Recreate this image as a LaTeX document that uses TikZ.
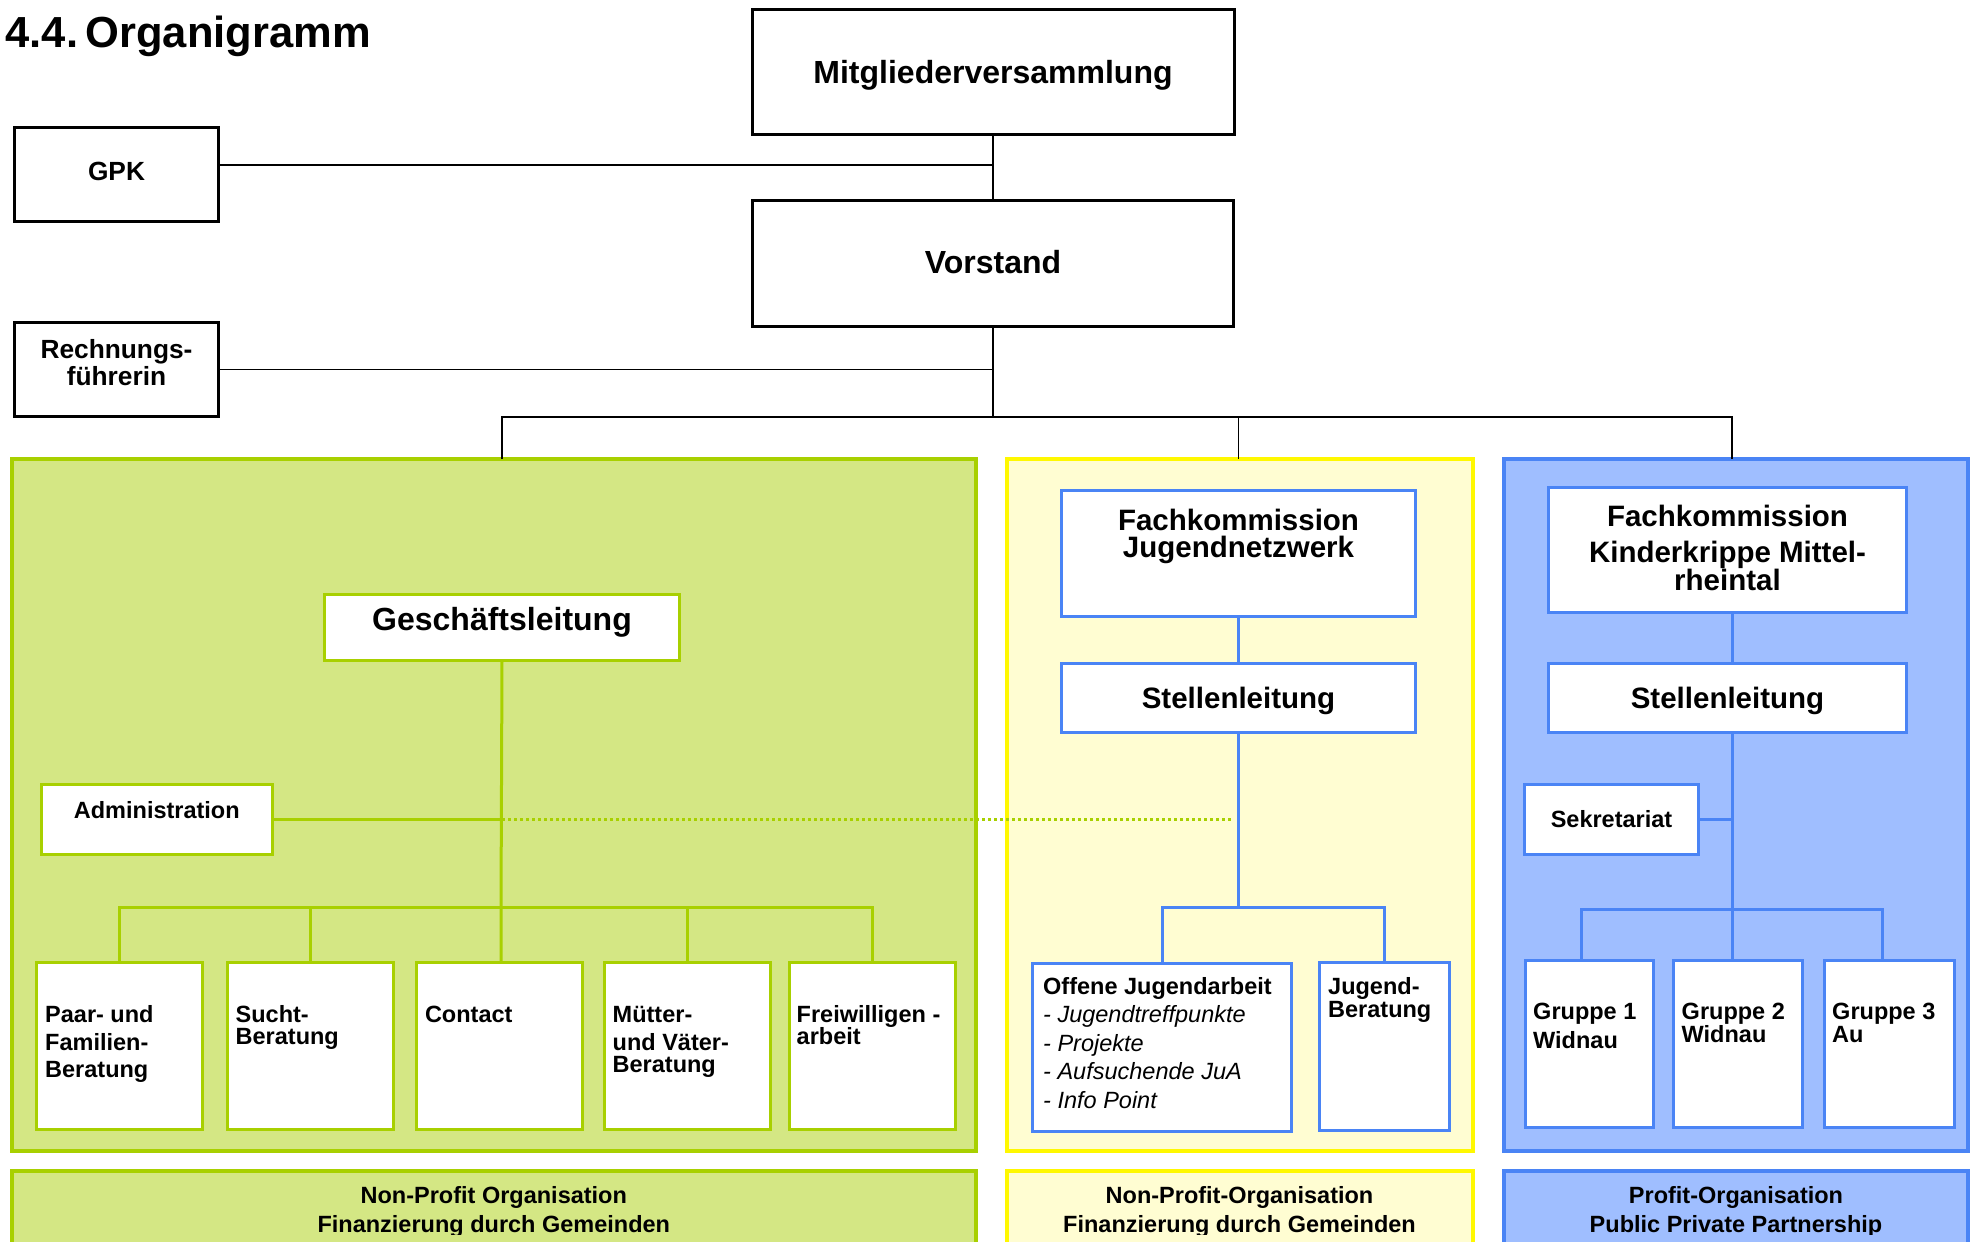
\documentclass[tikz,border=0pt]{standalone}
\usepackage{fontspec}
\setmainfont{Liberation Sans}
\usetikzlibrary{positioning}

\definecolor{grfill}{RGB}{212,231,132}
\definecolor{grline}{RGB}{168,208,0}
\definecolor{yefill}{RGB}{255,253,210}
\definecolor{yeline}{RGB}{255,248,0}
\definecolor{blfill}{RGB}{159,190,255}
\definecolor{blline}{RGB}{74,132,245}

\tikzset{
  blkbox/.style={draw=black, line width=3pt, fill=white, inner sep=0pt, outer sep=0pt},
  grbox/.style={draw=grline, line width=3pt, fill=white, inner sep=0pt, outer sep=0pt},
  blbox/.style={draw=blline, line width=3pt, fill=white, inner sep=0pt, outer sep=0pt},
  grpanel/.style={draw=grline, line width=4pt, fill=grfill, inner sep=0pt, outer sep=0pt, minimum width=964pt},
  yepanel/.style={draw=yeline, line width=4pt, fill=yefill, inner sep=0pt, outer sep=0pt, minimum width=466pt},
  blpanel/.style={draw=blline, line width=4pt, fill=blfill, inner sep=0pt, outer sep=0pt, minimum width=464pt},
  blkconn/.style={draw=black, line width=1.8pt},
  grconn/.style={draw=grline, line width=3pt},
  blconn/.style={draw=blline, line width=3pt},
  dotconn/.style={draw=grline, line width=3pt, dash pattern=on 3pt off 3pt},
  titletxt/.style={inner sep=0pt, font=\fontsize{43.5}{50}\selectfont\bfseries},
  bigtxt/.style={inner sep=0pt, font=\fontsize{32}{38}\selectfont\bfseries},
  midtxt/.style={inner sep=0pt, font=\fontsize{29.5}{35}\selectfont\bfseries},
  sidetxt/.style={inner sep=0pt, font=\fontsize{26.3}{31}\selectfont\bfseries},
  smalltxt/.style={inner sep=0pt, font=\fontsize{23.5}{28}\selectfont\bfseries},
  itemtxt/.style={inner sep=0pt, font=\fontsize{23.5}{28}\selectfont\itshape},
}

\begin{document}
\begin{tikzpicture}[x=1pt, y=-1pt]
    \useasboundingbox (0,0) rectangle (1973,1242);

    \node[titletxt, anchor=base west] (title) at (5.5,47) {4.4.\hspace{0.17em}Organigramm};

    % panels
    \node (green) at (493.8,805) [grpanel, minimum height=692pt] {};
    \node (yellow) at (1239.5,805) [yepanel, minimum height=692pt] {};
    \node (blue) at (1736,805) [blpanel, minimum height=692pt] {};

    \node (green label) at (493.8,1225.5) [grpanel, minimum height=109pt] {};
    \node (yellow label) at (1239.5,1225.5) [yepanel, minimum height=109pt] {};
    \node (blue label) at (1736,1225.5) [blpanel, minimum height=109pt] {};

    % top boxes
    \node (mv) at (993,72) [blkbox, minimum width=482pt, minimum height=125pt] {};
    \node (vs) at (993,263.5) [blkbox, minimum width=481pt, minimum height=126pt] {};
    \node (gpk) at (116.5,174.5) [blkbox, minimum width=204pt, minimum height=94pt] {};
    \node (rf) at (116.5,369.5) [blkbox, minimum width=204pt, minimum height=94pt] {};

    % green boxes
    \node (gl) at (502,627.5) [grbox, minimum width=355pt, minimum height=66pt] {};
    \node (adm) at (156.8,819.5) [grbox, minimum width=231pt, minimum height=70pt] {};
    \node (pf) at (119.5,1046) [grbox, minimum width=166pt, minimum height=167pt] {};
    \node (sb) at (310.5,1046) [grbox, minimum width=166pt, minimum height=167pt] {};
    \node (ct) at (499.3,1046) [grbox, minimum width=166pt, minimum height=167pt] {};
    \node (mt) at (687,1046) [grbox, minimum width=166pt, minimum height=167pt] {};
    \node (fw) at (872.5,1046) [grbox, minimum width=166pt, minimum height=167pt] {};

    % yellow boxes
    \node (fk1) at (1238.5,553.5) [blbox, minimum width=354pt, minimum height=126pt] {};
    \node (sl1) at (1238.5,698) [blbox, minimum width=354pt, minimum height=69pt] {};
    \node (oja) at (1162,1047.5) [blbox, minimum width=259pt, minimum height=168pt] {};
    \node (jb) at (1384.5,1046.5) [blbox, minimum width=130pt, minimum height=168pt] {};

    % blue boxes
    \node (fk2) at (1727.5,550) [blbox, minimum width=358pt, minimum height=125pt] {};
    \node (sl2) at (1727.5,698) [blbox, minimum width=358pt, minimum height=69pt] {};
    \node (sek) at (1611.5,819.5) [blbox, minimum width=174pt, minimum height=70pt] {};
    \node (g1) at (1589,1044) [blbox, minimum width=128pt, minimum height=167pt] {};
    \node (g2) at (1738,1044) [blbox, minimum width=129pt, minimum height=167pt] {};
    \node (g3) at (1889,1044) [blbox, minimum width=130pt, minimum height=167pt] {};

    % black connectors
    \coordinate (gpk join) at (993,165);
    \coordinate (bus) at (993,417);
    \coordinate (blue col) at (1732,698);
    \draw[blkconn] (mv.south) -- (vs.north);
    \draw[blkconn] (gpk join -| gpk.east) -- (gpk join);
    \draw[blkconn] (vs.south) -- (bus);
    \draw[blkconn] (rf.east) -- (rf.east -| vs.south);
    \draw[blkconn] (green.north -| gl.north) |- (bus) -| (blue.north -| blue col);
    \draw[blkconn] (bus -| sl1.north) -- (yellow.north -| sl1.north);

    % green connectors
    \coordinate (green bus) at (501,907);
    \draw[grconn] (gl.south) -- (green bus) -- (ct.north -| green bus);
    \draw[grconn] (pf.north) |- (green bus) -| (fw.north);
    \draw[grconn] (sb.north) -- (sb.north |- green bus);
    \draw[grconn] (mt.north) -- (mt.north |- green bus);
    \draw[grconn] (adm.east) -- (adm.east -| gl.south);
    \draw[dotconn] (adm.east -| gl.south) -- ([xshift=-6pt]adm.east -| sl1.south);

    % yellow connectors
    \coordinate (yellow bus) at (1238.5,907);
    \draw[blconn] (fk1.south) -- (sl1.north);
    \draw[blconn] (sl1.south) -- (yellow bus);
    \draw[blconn] (oja.north) |- (yellow bus) -| (jb.north);

    % blue connectors
    \coordinate (blue bus) at (1732,909);
    \draw[blconn] (fk2.south -| blue col) -- (sl2.north -| blue col);
    \draw[blconn] (sl2.south -| blue col) -- (g2.north -| blue col);
    \draw[blconn] (sek.east) -- (sek.east -| blue col);
    \draw[blconn] ([xshift=-8pt]g1.north) |- (blue bus) -| ([xshift=-7pt]g3.north);

    % texts
    \node[bigtxt, below=73.5pt of mv.north, anchor=base] (mv text) {Mitgliederversammlung};
    \node[bigtxt, below=72.5pt of vs.north, anchor=base] (vs text) {Vorstand};
    \node[sidetxt, below=52.5pt of gpk.north, anchor=base] (gpk text) {GPK};
    \node[sidetxt, below=35.5pt of rf.north, anchor=base] (rf1) {Rechnungs-};
    \node[sidetxt, below=27pt of rf1.base, anchor=base] (rf2) {führerin};

    \node[bigtxt, below=35.5pt of gl.north, anchor=base] (gl text) {Geschäftsleitung};
    \node[smalltxt, below=33.5pt of adm.north, anchor=base] (adm text) {Administration};

    \node[smalltxt, below=59.5pt of pf.north west, anchor=base west, xshift=8.5pt] (pf1) {Paar- und};
    \node[smalltxt, below=28pt of pf1.base west, anchor=base west] (pf2) {Familien-};
    \node[smalltxt, below=27pt of pf2.base west, anchor=base west] (pf3) {Beratung};

    \node[smalltxt, below=59.5pt of sb.north west, anchor=base west, xshift=8pt] (sb1) {Sucht-};
    \node[smalltxt, below=22pt of sb1.base west, anchor=base west] (sb2) {Beratung};

    \node[smalltxt, below=59.5pt of ct.north west, anchor=base west, xshift=8.5pt] (ct1) {Contact};

    \node[smalltxt, below=59.5pt of mt.north west, anchor=base west, xshift=8.5pt] (mt1) {Mütter-};
    \node[smalltxt, below=28pt of mt1.base west, anchor=base west] (mt2) {und Väter-};
    \node[smalltxt, below=22pt of mt2.base west, anchor=base west] (mt3) {Beratung};

    \node[smalltxt, below=59.5pt of fw.north west, anchor=base west, xshift=7pt] (fw1) {Freiwilligen -};
    \node[smalltxt, below=22pt of fw1.base west, anchor=base west] (fw2) {arbeit};

    \node[midtxt, below=39.5pt of fk1.north, anchor=base] (fk1a) {Fachkommission};
    \node[midtxt, below=27pt of fk1a.base, anchor=base] (fk1b) {Jugendnetzwerk};
    \node[midtxt, below=44.5pt of sl1.north, anchor=base] (sl1 text) {Stellenleitung};

    \node[smalltxt, below=30.5pt of oja.north west, anchor=base west, xshift=10.5pt] (oja1) {Offene Jugendarbeit};
    \node[itemtxt, below=28.5pt of oja1.base west, anchor=base west] (oja2) {- Jugendtreffpunkte};
    \node[itemtxt, below=28.5pt of oja2.base west, anchor=base west] (oja3) {- Projekte};
    \node[itemtxt, below=28.5pt of oja3.base west, anchor=base west] (oja4) {- Aufsuchende JuA};
    \node[itemtxt, below=28.5pt of oja4.base west, anchor=base west] (oja5) {- Info Point};

    \node[smalltxt, below=31.5pt of jb.north west, anchor=base west, xshift=8.5pt] (jb1) {Jugend-};
    \node[smalltxt, below=23pt of jb1.base west, anchor=base west] (jb2) {Beratung};

    \node[midtxt, below=38.5pt of fk2.north, anchor=base] (fk2a) {Fachkommission};
    \node[midtxt, below=36pt of fk2a.base, anchor=base] (fk2b) {Kinderkrippe Mittel-};
    \node[midtxt, below=28pt of fk2b.base, anchor=base] (fk2c) {rheintal};
    \node[midtxt, below=44.5pt of sl2.north, anchor=base] (sl2 text) {Stellenleitung};
    \node[smalltxt, below=42.5pt of sek.north, anchor=base] (sek text) {Sekretariat};

    \node[smalltxt, below=58.5pt of g1.north west, anchor=base west, xshift=8pt] (g1a) {Gruppe 1};
    \node[smalltxt, below=29pt of g1a.base west, anchor=base west] (g1b) {Widnau};
    \node[smalltxt, below=58.5pt of g2.north west, anchor=base west, xshift=8pt] (g2a) {Gruppe 2};
    \node[smalltxt, below=23pt of g2a.base west, anchor=base west] (g2b) {Widnau};
    \node[smalltxt, below=58.5pt of g3.north west, anchor=base west, xshift=8pt] (g3a) {Gruppe 3};
    \node[smalltxt, below=23pt of g3a.base west, anchor=base west] (g3b) {Au};

    % bottom labels, cut off at the lower edge
    \begin{scope}
        \clip (0,0) rectangle (1973,1234);
        \node[smalltxt, below=32pt of green label.north, anchor=base] (gl1) {Non-Profit Organisation};
        \node[smalltxt, below=29pt of gl1.base, anchor=base] (gl2) {Finanzierung durch Gemeinden};
        \node[smalltxt, below=32pt of yellow label.north, anchor=base] (yl1) {Non-Profit-Organisation};
        \node[smalltxt, below=29pt of yl1.base, anchor=base] (yl2) {Finanzierung durch Gemeinden};
        \node[smalltxt, below=32pt of blue label.north, anchor=base] (bl1) {Profit-Organisation};
        \node[smalltxt, below=29pt of bl1.base, anchor=base] (bl2) {Public Private Partnership};
    \end{scope}
\end{tikzpicture}
\end{document}
